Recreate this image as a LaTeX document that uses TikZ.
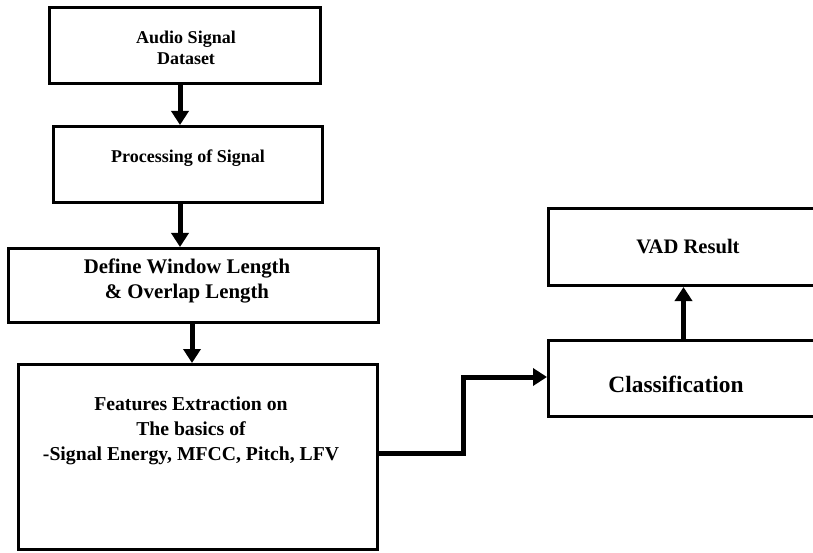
\documentclass[tikz,border=0pt]{standalone}
\usepackage{fontspec}
\setmainfont{Liberation Serif}
\usetikzlibrary{positioning,arrows.meta}

\begin{document}
\begin{tikzpicture}[x=1pt,y=-1pt,blk/.style={draw,rectangle,line width=3pt,inner sep=0pt},txt/.style={align=center,inner sep=0pt,font=\bfseries},flow/.style={line width=5pt,-{Triangle[length=14pt,width=17pt]}}]
\useasboundingbox (0,0) rectangle (813,553);
\clip (0,0) rectangle (813,553);
\node[blk,minimum width=271pt,minimum height=76pt] (aud) at (185,45.5) {};
\node[blk,minimum width=269pt,minimum height=76pt] (proc) at (188,164.5) {};
\node[blk,minimum width=370pt,minimum height=74pt] (def) at (193.5,285.5) {};
\node[blk,minimum width=359pt,minimum height=185pt] (feat) at (198,457) {};
\node[blk,minimum width=350pt,minimum height=77pt] (vad) at (723.5,247) {};
\node[blk,minimum width=350pt,minimum height=76pt] (cls) at (723.5,378.5) {};
\node[txt,font=\bfseries\fontsize{18}{21}\selectfont] (audt) at (186,47.5) {Audio Signal\\Dataset};
\node[txt,font=\bfseries\fontsize{18}{21}\selectfont,anchor=base] (proct) at (188,163) {Processing of Signal};
\node[txt,font=\bfseries\fontsize{20.8}{25}\selectfont] (deft) at (187,281) {Define Window Length\\\& Overlap Length};
\node[txt,font=\bfseries\fontsize{19.7}{25}\selectfont] (featt) at (191,431) {Features Extraction on\\The basics of\\-Signal Energy, MFCC, Pitch, LFV};
\node[txt,font=\bfseries\fontsize{20.6}{25}\selectfont,anchor=base] (vadt) at (688,253) {VAD Result};
\node[txt,font=\bfseries\fontsize{23.4}{28}\selectfont,anchor=base] (clst) at (676,392) {Classification};
% vertical flow
\foreach \a/\b/\s in {aud/proc/-5pt,proc/def/-8pt,def/feat/-1.5pt}{\draw[flow] ([xshift=\s]\a.south) -- ([xshift=\s]\a.south |- \b.north);}
\draw[flow] ([yshift=4pt]feat.east) -| ([xshift=-83.5pt,yshift=1.5pt]cls.west) -- ([yshift=1.5pt]cls.west);
\draw[flow] ([xshift=136.5pt]cls.north west) -- ([xshift=136.5pt]vad.south west);
\end{tikzpicture}
\end{document}
